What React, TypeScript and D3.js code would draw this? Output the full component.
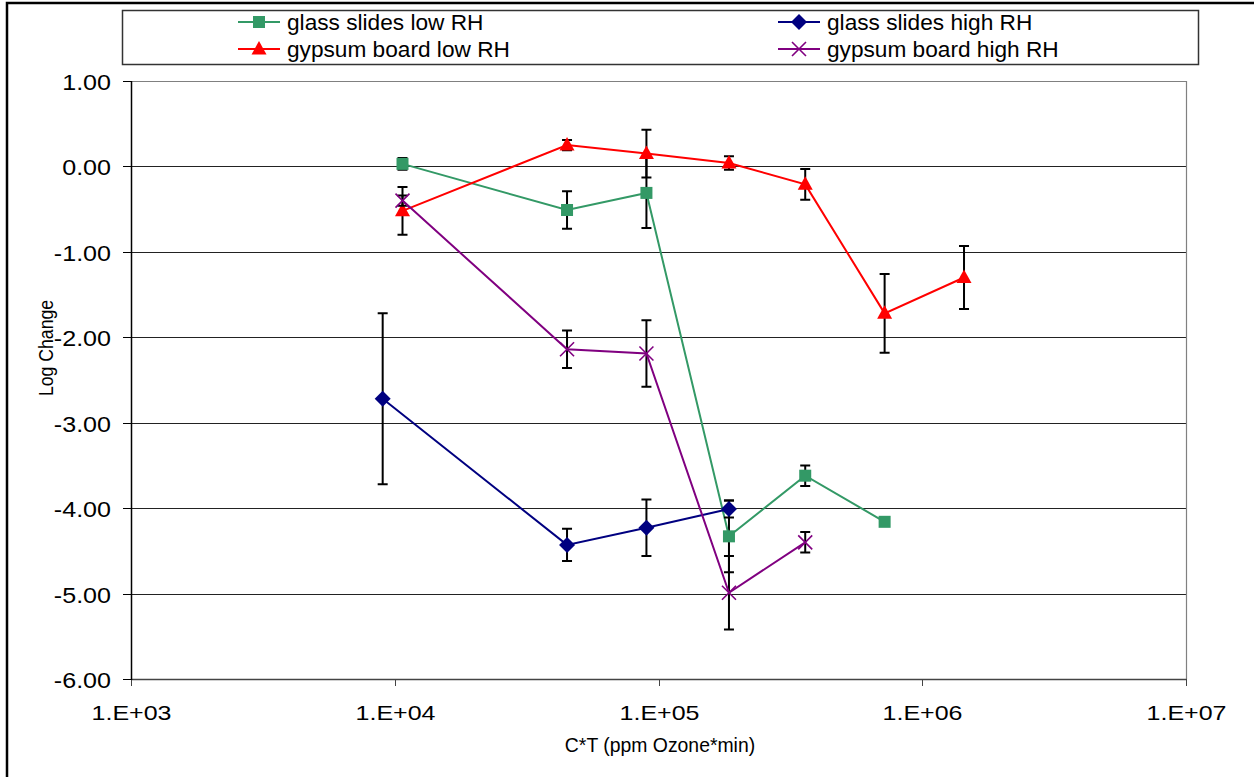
import React, { useEffect, useRef } from 'react'
import * as d3 from 'd3'

// C*T values (ppm ozone * min) and log change
const glassLowX = [1.07e4, 4.5e4, 9e4, 1.85e5, 3.6e5, 7.2e5]
const glassLowY = [0.03, -0.51, -0.31, -4.33, -3.62, -4.16]
const glassLowErr = [0.07, 0.22, 0.41, 0.42, 0.12, 0]

const glassHighX = [9e3, 4.5e4, 9e4, 1.85e5]
const glassHighY = [-2.72, -4.43, -4.23, -4.01]
const glassHighErr = [1.0, 0.19, 0.33, 0.1]

const gypLowX = [1.07e4, 4.5e4, 9e4, 1.85e5, 3.6e5, 7.2e5, 1.44e6]
const gypLowY = [-0.52, 0.25, 0.15, 0.04, -0.21, -1.72, -1.3]
const gypLowErr = [0.28, 0.06, 0.28, 0.08, 0.18, 0.46, 0.37]

const gypHighX = [1.07e4, 4.5e4, 9e4, 1.85e5, 3.6e5]
const gypHighY = [-0.4, -2.14, -2.19, -4.99, -4.4]
const gypHighErr = [0.06, 0.22, 0.39, 0.43, 0.12]

const xTicks = [1e3, 1e4, 1e5, 1e6, 1e7]
const xTickLabels = ['1.E+03', '1.E+04', '1.E+05', '1.E+06', '1.E+07']
const yTicks = [1, 0, -1, -2, -3, -4, -5, -6]

type Marker = 'square' | 'diamond' | 'triangle' | 'x'

interface Series {
  name: string
  xs: number[]
  ys: number[]
  err: number[]
  color: string
  marker: Marker
}

const series: Series[] = [
  { name: 'glass slides low RH', xs: glassLowX, ys: glassLowY, err: glassLowErr, color: '#339966', marker: 'square' },
  { name: 'glass slides high RH', xs: glassHighX, ys: glassHighY, err: glassHighErr, color: '#000080', marker: 'diamond' },
  { name: 'gypsum board low RH', xs: gypLowX, ys: gypLowY, err: gypLowErr, color: '#ff0000', marker: 'triangle' },
  { name: 'gypsum board high RH', xs: gypHighX, ys: gypHighY, err: gypHighErr, color: '#800080', marker: 'x' },
]

const W = 1254
const H = 777
const left = 131
const right = 1186
const top = 81
const bottom = 679

type G = d3.Selection<SVGGElement, unknown, null, undefined>

function drawMarker(g: G, m: Marker, cx: number, cy: number, color: string) {
  if (m === 'square') {
    g.append('rect').attr('x', cx - 6).attr('y', cy - 6).attr('width', 12).attr('height', 12).attr('fill', color)
  } else if (m === 'diamond') {
    g.append('path')
      .attr('d', `M${cx},${cy - 8}L${cx + 8},${cy}L${cx},${cy + 8}L${cx - 8},${cy}Z`)
      .attr('fill', color)
  } else if (m === 'triangle') {
    g.append('path')
      .attr('d', `M${cx},${cy - 8}L${cx + 7.5},${cy + 5.5}L${cx - 7.5},${cy + 5.5}Z`)
      .attr('fill', color)
  } else {
    g.append('path')
      .attr('d', `M${cx - 7},${cy - 7}L${cx + 7},${cy + 7}M${cx - 7},${cy + 7}L${cx + 7},${cy - 7}`)
      .attr('stroke', color)
      .attr('stroke-width', 1.6)
      .attr('fill', 'none')
  }
}

// text in the original is scaled a bit unevenly; `along` scales the run, `across` the glyph height
function label(g: G, txt: string, x: number, y: number, size: number, along: number, anchor: string, rotate = 0, across = 1) {
  const t = `translate(${x},${y}) rotate(${rotate}) scale(${along},${across})`
  g.append('text')
    .attr('transform', t)
    .attr('text-anchor', anchor)
    .attr('font-family', 'Liberation Sans, Arial, sans-serif')
    .attr('font-size', size)
    .attr('fill', '#000')
    .text(txt)
}

export default function App() {
  const svgRef = useRef<SVGSVGElement>(null)

  useEffect(() => {
    if (!svgRef.current) return
    const svg = d3.select(svgRef.current)
    svg.selectAll('*').remove()

    const x = d3.scaleLog().domain([1e3, 1e7]).range([left, right])
    const y = d3.scaleLinear().domain([-6, 1]).range([bottom, top])

    const g = svg.append('g') as G

    g.append('rect').attr('width', W).attr('height', H).attr('fill', '#fff')
    // outer frame
    g.append('rect')
      .attr('x', 7)
      .attr('y', 3)
      .attr('width', W + 20)
      .attr('height', H + 20)
      .attr('fill', 'none')
      .attr('stroke', '#000')
      .attr('stroke-width', 2.5)

    // gridlines
    yTicks.forEach((v) => {
      if (v === 1 || v === -6) return
      g.append('line')
        .attr('x1', left)
        .attr('x2', right)
        .attr('y1', Math.round(y(v)) + 0.5)
        .attr('y2', Math.round(y(v)) + 0.5)
        .attr('stroke', '#222')
        .attr('stroke-width', 1)
    })

    // plot border (top, right) in gray
    g.append('path')
      .attr('d', `M${left},${top + 0.5}H${right + 0.5}V${bottom}`)
      .attr('stroke', '#808080')
      .attr('stroke-width', 1.2)
      .attr('fill', 'none')

    // x axis
    g.append('line')
      .attr('x1', left)
      .attr('x2', right + 0.5)
      .attr('y1', bottom + 0.5)
      .attr('y2', bottom + 0.5)
      .attr('stroke', '#444')
      .attr('stroke-width', 1.5)
    xTicks.forEach((v, i) => {
      const px = Math.round(x(v)) + 0.5
      g.append('line').attr('x1', px).attr('x2', px).attr('y1', bottom).attr('y2', bottom + 7).attr('stroke', '#444')
      label(g, xTickLabels[i], px, bottom + 41, 21, 1.19, 'middle')
    })

    // y axis
    g.append('line')
      .attr('x1', left + 0.5)
      .attr('x2', left + 0.5)
      .attr('y1', top)
      .attr('y2', bottom + 1)
      .attr('stroke', '#000')
      .attr('stroke-width', 1.5)
    yTicks.forEach((v) => {
      const py = Math.round(y(v)) + 0.5
      g.append('line').attr('x1', left - 8).attr('x2', left).attr('y1', py).attr('y2', py).attr('stroke', '#000')
      label(g, v.toFixed(2), 111, py + 8, 22, 1.14, 'end')
    })

    label(g, 'Log Change', 53, 348, 19, 0.93, 'middle', -90, 1.1)
    label(g, 'C*T (ppm Ozone*min)', 660, 752, 20, 0.97, 'middle')

    // series: error bars, lines, markers
    series.forEach((s) => {
      const sg = g.append('g') as G
      s.xs.forEach((xv, i) => {
        const e = s.err[i]
        if (!e) return
        const px = x(xv)
        const y1 = y(s.ys[i] + e)
        const y2 = y(s.ys[i] - e)
        sg.append('path')
          .attr('d', `M${px},${y1}V${y2}M${px - 5},${y1}H${px + 5}M${px - 5},${y2}H${px + 5}`)
          .attr('stroke', '#000')
          .attr('stroke-width', 2)
          .attr('fill', 'none')
      })
      const line = d3
        .line<number>()
        .x((_, i) => x(s.xs[i]))
        .y((d) => y(d))
      sg.append('path')
        .attr('d', line(s.ys) || '')
        .attr('stroke', s.color)
        .attr('stroke-width', 2)
        .attr('fill', 'none')
      s.xs.forEach((xv, i) => drawMarker(sg, s.marker, x(xv), y(s.ys[i]), s.color))
    })

    // legend
    const lg = g.append('g') as G
    lg.append('rect')
      .attr('x', 122.5)
      .attr('y', 10.5)
      .attr('width', 1076)
      .attr('height', 54)
      .attr('fill', '#fff')
      .attr('stroke', '#333')
      .attr('stroke-width', 1.5)
    const cols = [238, 778]
    const rows = [22, 49]
    series.forEach((s, i) => {
      const lx = cols[i % 2]
      const ly = rows[Math.floor(i / 2)]
      lg.append('line')
        .attr('x1', lx)
        .attr('x2', lx + 42)
        .attr('y1', ly)
        .attr('y2', ly)
        .attr('stroke', s.color)
        .attr('stroke-width', 2)
      drawMarker(lg, s.marker, lx + 21, ly, s.color)
      label(lg, s.name, lx + 49, ly + 8, 22, 1.03, 'start')
    })
  }, [])

  return (
    <svg
      ref={svgRef}
      width={W}
      height={H}
      style={{ position: 'absolute', left: 0, top: 0, display: 'block' }}
    />
  )
}
